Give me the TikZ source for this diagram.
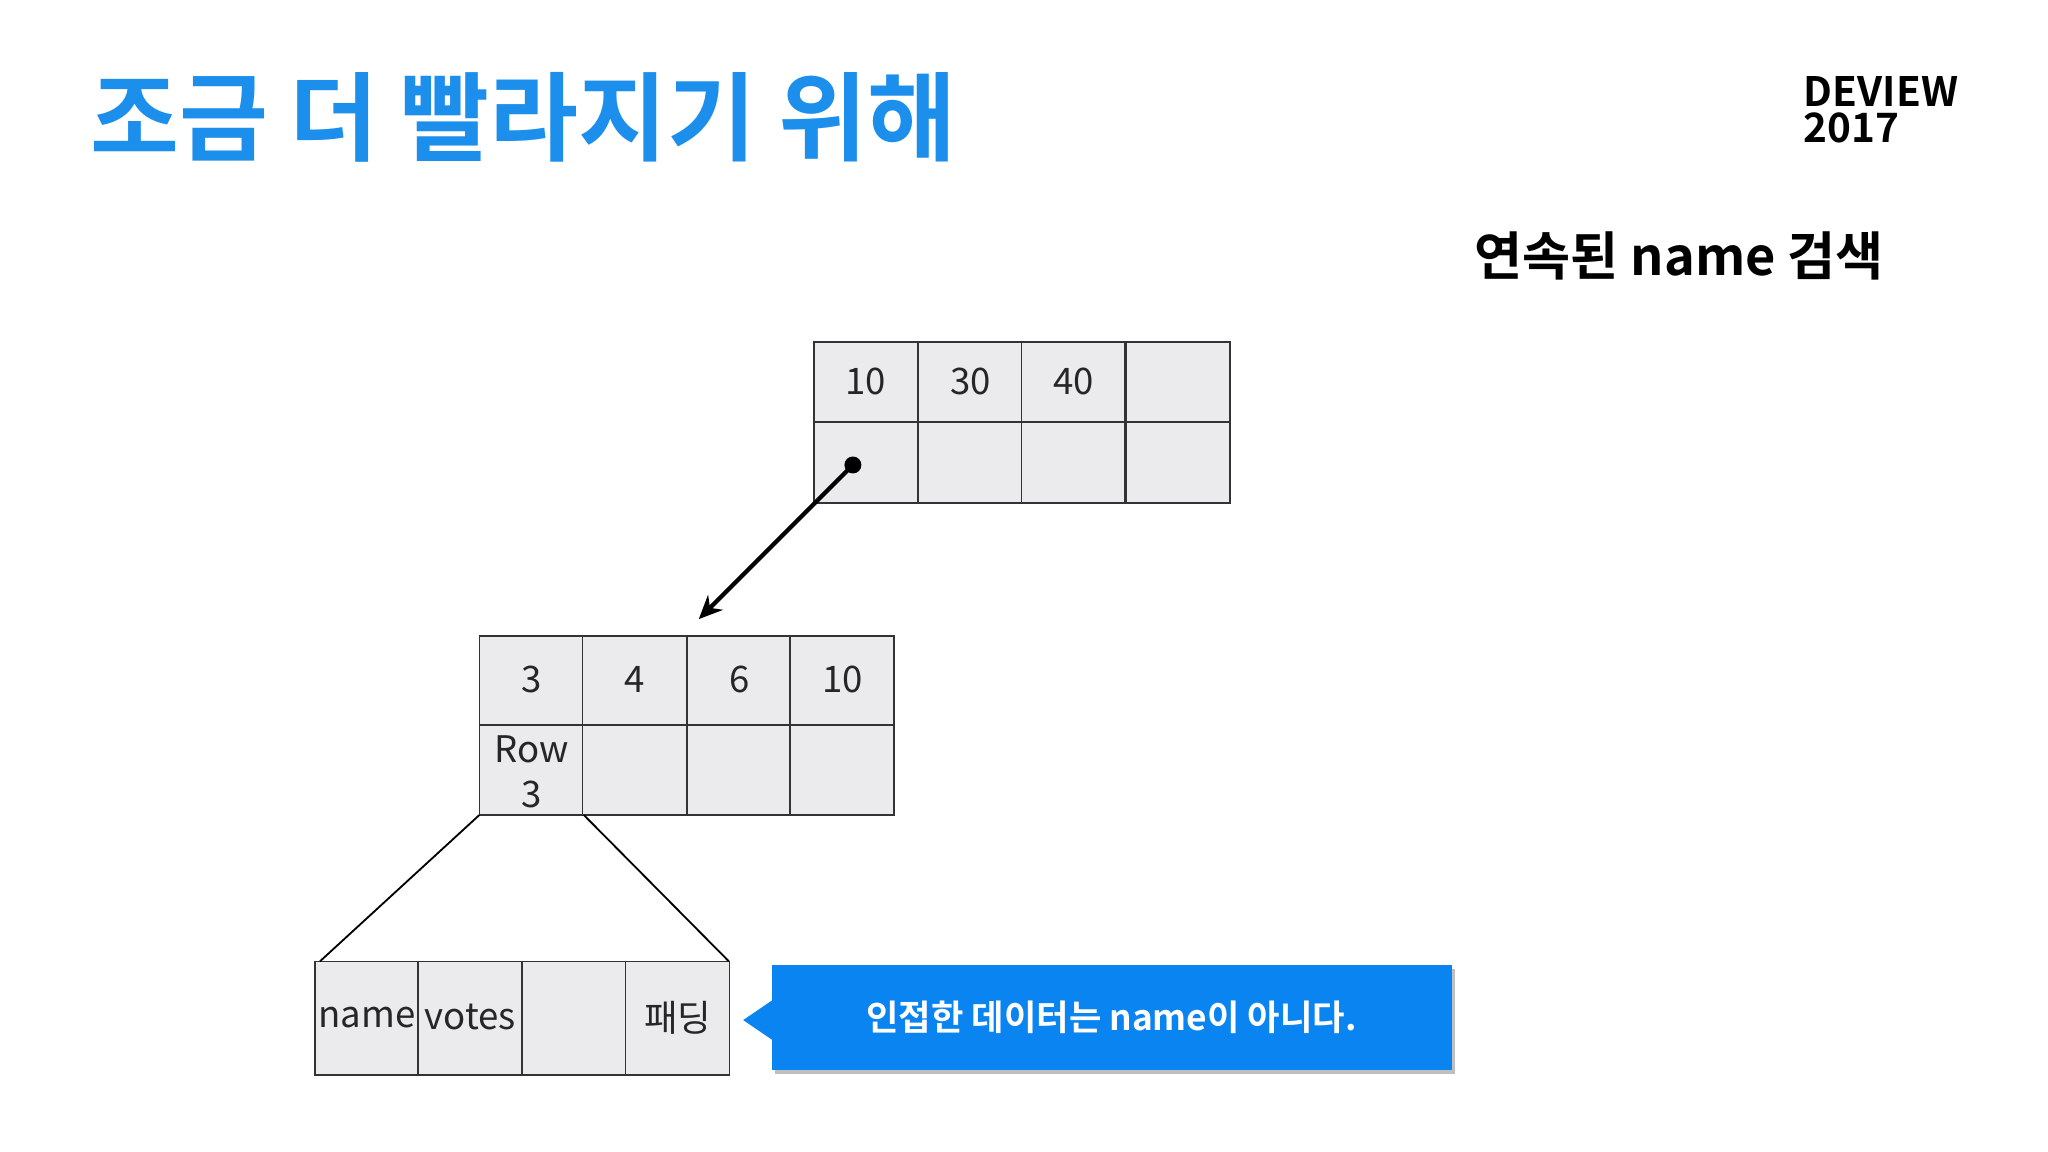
\documentclass[tikz,border=0pt]{standalone}
\usepackage{fontspec}
\usetikzlibrary{arrows.meta}
\setmainfont{Noto Sans CJK KR}[BoldFont={Noto Sans CJK KR Bold}]
\begin{document}
\begin{tikzpicture}[x=0.5pt,y=-0.5pt,
  cell/.style={draw=black!80,fill=cellgray,line width=0.6pt},
  num/.style={font=\fontsize{14}{16}\selectfont,text=black!85}]
\definecolor{cellgray}{HTML}{EBEAEC}
\definecolor{deblue}{HTML}{1C8EEC}
\definecolor{calloutblue}{HTML}{0A84F0}
\useasboundingbox[fill=white] (0,0) rectangle (1568,882);
\node[anchor=west,text=deblue,font=\bfseries\fontsize{37}{40}\selectfont] (title) at (62,90) {조금 더 빨라지기 위해};
\node[anchor=west,align=left,font=\bfseries\fontsize{15.5}{14}\selectfont] (logo) at (1374,84) {DEVIEW\\2017};
\node[anchor=west,font=\bfseries\fontsize{20}{22}\selectfont] (sub) at (1122,196) {연속된 name 검색};
% top table
\foreach \x/\t in {623/10,703/30,782/40,862/{}}{
  \draw[cell] (\x,262) rectangle ++(79.5,61);
  \draw[cell] (\x,323) rectangle ++(79.5,62);
  \node[num] at (\x+40,292) {\t};}
% middle table
\foreach \x/\t in {367/3,446/4,526/6,605/10}{
  \draw[cell] (\x,487) rectangle ++(79.5,68);
  \draw[cell] (\x,555) rectangle ++(79.5,69);
  \node[num] at (\x+40,520) {\t};}
\node[num,align=center,font=\fontsize{14}{17}\selectfont] (row) at (407,591) {Row\\3};
% bottom table
\foreach \x/\t in {241/name,320/votes,400/{},479/패딩}{
  \draw[cell] (\x,736) rectangle ++(79.5,87);
  \node[num] at (\x+40,779) {\t};}
\coordinate (m1) at (367,624); \coordinate (m2) at (447,624);
\coordinate (b1) at (245,736); \coordinate (b2) at (558,736);
\draw[line width=0.7pt] (m1)--(b1) (m2)--(b2);
\coordinate (dot) at (653,356); \coordinate (tip) at (535,474);
\fill (dot) circle (6.5);
\draw[line width=1.6pt,-{Stealth[length=9pt,width=8pt]}] (dot)--(tip);
% callout
\fill[black!25] (593,742) rectangle (1114,822);
\fill[calloutblue] (591,739) rectangle (1112,819);
\fill[calloutblue] (591,766) -- (569,781) -- (591,796) -- cycle;
\node[text=white,font=\bfseries\fontsize{13.5}{15}\selectfont] (call) at (851,779) {인접한 데이터는 name이 아니다.};
\end{tikzpicture}
\end{document}
